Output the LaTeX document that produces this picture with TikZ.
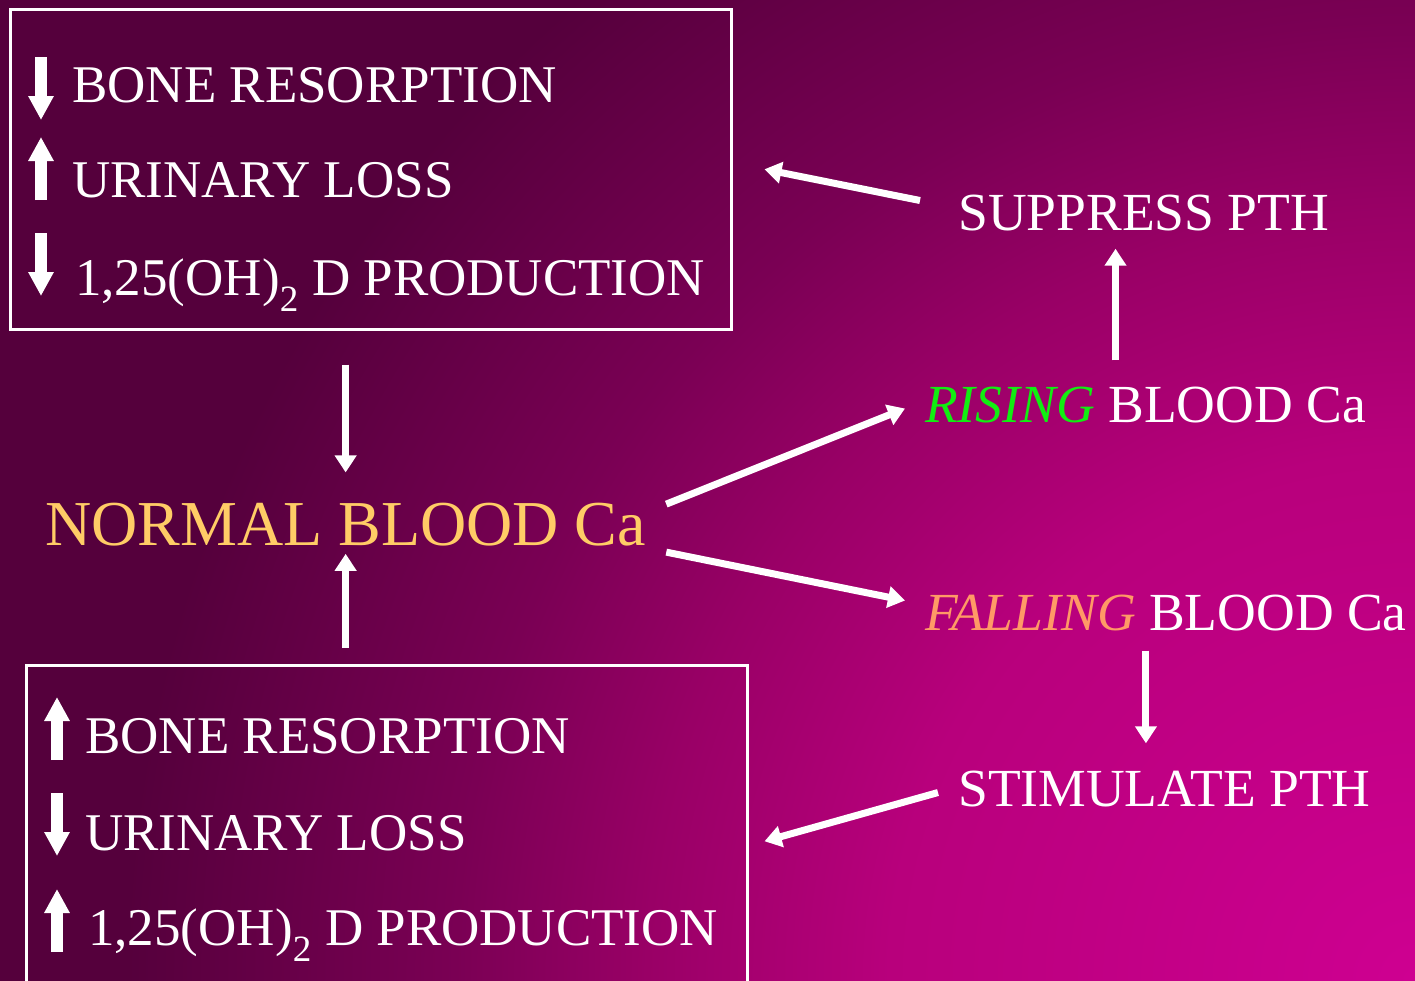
\documentclass[tikz,border=0pt]{standalone}
\usepackage{fontspec}
\setmainfont{Liberation Serif}
\usetikzlibrary{arrows.meta}

\definecolor{bg0}{HTML}{CE0091}
\definecolor{bg1}{HTML}{B8007C}
\definecolor{bg2}{HTML}{990066}
\definecolor{bg3}{HTML}{7A0054}
\definecolor{bg4}{HTML}{55003C}
\definecolor{normcol}{HTML}{FFCC66}
\definecolor{risecol}{HTML}{11EE11}
\definecolor{fallcol}{HTML}{FF9966}

\pgfdeclareradialshading{slidebg}{\pgfpoint{0bp}{0bp}}{%
  color(0bp)=(bg0); color(8.75bp)=(bg1); color(12.8bp)=(bg2);
  color(16bp)=(bg3); color(21.5bp)=(bg4); color(50bp)=(bg4)}

\tikzset{
  box/.style={draw=white, line width=2.5pt, inner sep=0pt},
  row/.style={anchor=base west, inner sep=0pt, text=white, font=\fontsize{53}{60}\selectfont},
  side/.style={anchor=base west, inner sep=0pt, text=white, font=\fontsize{53.6}{60}\selectfont},
  glyph/.style={draw=white, line width=12pt, -{Triangle[length=24pt,width=24pt]}},
  link/.style={draw=white, line width=7pt, -{Triangle[length=17pt,width=21pt]}}
}

\begin{document}
\begin{tikzpicture}[x=1pt, y=-1pt]
    \useasboundingbox (0,0) rectangle (1415,980);
    % background, brightest in the lower right corner
    \begin{scope}
      \clip (0,0) rectangle (1415,980);
      \shade[shading=slidebg] (-85,-520) rectangle (2915,2480);
    \end{scope}

    % top box: calcium going down
    \node[box, minimum width=721pt, minimum height=320pt, anchor=north west] (topbox) at (9,8) {};
    \node[row] (t1) at (72,102) {BONE RESORPTION};
    \node[row] (t2) at (72,197) {URINARY LOSS};
    \node[row] (t3) at (75,295) {1,25(OH)\textsubscript{2} D PRODUCTION};
    \draw[glyph] (41,57) -- (41,120);
    \draw[glyph] (41,200) -- (41,137);
    \draw[glyph] (41,233) -- (41,296);

    % bottom box: calcium going up
    \node[box, minimum width=721pt, minimum height=330pt, anchor=north west] (botbox) at (25,664) {};
    \node[row] (b1) at (85,753) {BONE RESORPTION};
    \node[row] (b2) at (85,850) {URINARY LOSS};
    \node[row] (b3) at (88,945) {1,25(OH)\textsubscript{2} D PRODUCTION};
    \draw[glyph] (57,760) -- (57,697);
    \draw[glyph] (57,793) -- (57,856);
    \draw[glyph] (57,952) -- (57,889);

    % middle
    \node[anchor=base west, inner sep=0pt, text=normcol, font=\fontsize{64}{70}\selectfont] (normal) at (45,545) {NORMAL BLOOD Ca};

    % right side
    \node[side] (suppress) at (958,230) {SUPPRESS PTH};
    \node[side] (rising) at (925,422) {\textcolor{risecol}{\itshape RISING} BLOOD Ca};
    \node[side] (falling) at (925,630) {\textcolor{fallcol}{\itshape FALLING} BLOOD Ca};
    \node[side] (stimulate) at (958,806) {STIMULATE PTH};

    % connectors
    \draw[link, shorten <=34pt, shorten >=30pt] (normal.north |- topbox.south) -- (normal.north);
    \draw[link, shorten <=16pt, shorten >=8pt] (normal.south |- botbox.north) -- (normal.south);
    \draw[link] ([xshift=20pt, yshift=20pt]normal.east) -- ([xshift=-20pt, yshift=-4pt]rising.west);
    \draw[link] ([xshift=20pt, yshift=-28pt]normal.east) -- ([xshift=-20pt, yshift=12pt]falling.west);
    \draw[link, shorten <=26pt, shorten >=18pt] ([xshift=-30pt]rising.north) -- ([xshift=-30pt]rising.north |- suppress.south);
    \draw[link] ([xshift=-38pt, yshift=12pt]suppress.west) -- ([xshift=32pt]topbox.east);
    \draw[link, shorten <=20pt, shorten >=27pt] ([xshift=-20pt]falling.south) -- ([xshift=-20pt]falling.south |- stimulate.north);
    \draw[link] ([xshift=-20pt, yshift=-4pt]stimulate.west) -- ([xshift=16pt, yshift=-11pt]botbox.east);
\end{tikzpicture}
\end{document}
